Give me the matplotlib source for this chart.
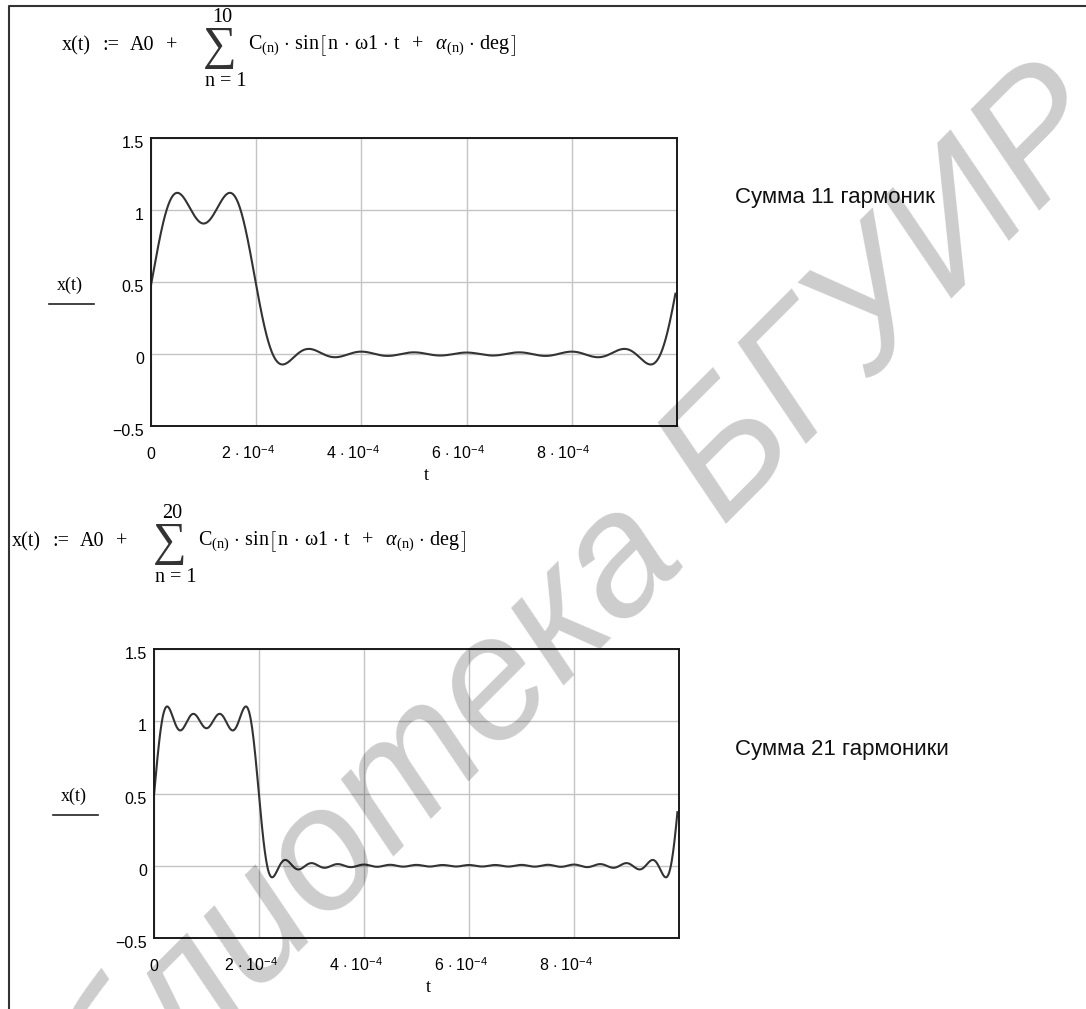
import numpy as np
import matplotlib.pyplot as plt
import matplotlib.transforms as mtransforms

plt.rcParams['mathtext.fontset'] = 'custom'
plt.rcParams['mathtext.rm'] = 'Liberation Serif'
plt.rcParams['mathtext.it'] = 'Liberation Serif:italic'
plt.rcParams['mathtext.sf'] = 'Liberation Sans'

# Pulse train expansion: constant term, amplitudes and phases (deg) of harmonics 1..20
A0 = 0.2
f1 = 1000.0
C = [0.3742, 0.3027, 0.2018, 0.0935, 0.0, 0.0624, 0.0865, 0.0757, 0.0416, 0.0,
     0.0340, 0.0505, 0.0466, 0.0267, 0.0, 0.0234, 0.0356, 0.0336, 0.0197, 0.0]
alpha = [54, 18, -18, -54, 0, 54, 18, -18, -54, 0,
         54, 18, -18, -54, 0, 54, 18, -18, -54, 0]
t_end = 0.997e-3

harm_counts = [10, 20]
captions = ['Сумма 11 гармоник', 'Сумма 21 гармоники']

t_ticks = [0, 2e-4, 4e-4, 6e-4, 8e-4]
t_labels = ['0', r'$\mathsf{2\,\cdot\,10}^{\mathsf{-4}}$', r'$\mathsf{4\,\cdot\,10}^{\mathsf{-4}}$',
            r'$\mathsf{6\,\cdot\,10}^{\mathsf{-4}}$', r'$\mathsf{8\,\cdot\,10}^{\mathsf{-4}}$']
y_ticks = [-0.5, 0, 0.5, 1, 1.5]
y_labels = ['\u22120.5', '0', '0.5', '1', '1.5']


def x_sum(t, N):
    w1 = 2 * np.pi * f1
    deg = np.pi / 180
    x = np.full_like(t, A0)
    for n in range(1, N + 1):
        x += C[n - 1] * np.sin(n * w1 * t + alpha[n - 1] * deg)
    return x


W, H = 1086, 1009
fig = plt.figure(figsize=(W / 100, H / 100), dpi=100)


def rect(l, t, r, b):
    return [l / W, 1 - b / H, (r - l) / W, (b - t) / H]


boxes = [(151, 138, 677, 426), (154, 649, 679, 938)]
t = np.linspace(0, t_end, 1200)

for box, N in zip(boxes, harm_counts):
    ax = fig.add_axes(rect(*box))
    ax.plot(t, x_sum(t, N), color='#333333', lw=1.5)
    ax.set_xlim(0, 1e-3)
    ax.set_ylim(-0.5, 1.5)
    ax.set_xticks(t_ticks)
    ax.set_xticklabels(t_labels)
    ax.set_yticks(y_ticks)
    ax.set_yticklabels(y_labels)
    ax.grid(color='#c4c4c4', lw=1.0)
    ax.set_axisbelow(True)
    ax.tick_params(length=0, labelsize=11.5)
    ax.tick_params(axis='y', pad=5)
    ax.tick_params(axis='x', pad=24)
    for lbl in ax.get_xticklabels() + ax.get_yticklabels():
        lbl.set_fontfamily('Liberation Sans')
    dy = mtransforms.ScaledTranslation(0, -3 / 72, fig.dpi_scale_trans)
    for lbl in ax.get_yticklabels():
        lbl.set_transform(lbl.get_transform() + dy)
    dx = mtransforms.ScaledTranslation(-6 / 72, 0, fig.dpi_scale_trans)
    for i, lbl in enumerate(ax.get_xticklabels()):
        lbl.set_verticalalignment('baseline')
        if i > 0:
            lbl.set_transform(lbl.get_transform() + dx)
    for s in ax.spines.values():
        s.set_color('#1a1a1a')
        s.set_linewidth(1.4)

# text layer in pixel coordinates
ov = fig.add_axes([0, 0, 1, 1])
ov.set_xlim(0, W)
ov.set_ylim(H, 0)
ov.axis('off')

# page frame
ov.plot([9, 9, W], [H, 6, 6], color='#333333', lw=1.5)

serif = 'Liberation Serif'
rest = (r'$\mathrm{C}_{(\mathrm{n})}\,\cdot\,\mathrm{sin}\left[\,\mathrm{n}\,\cdot\,\mathrm{\omega 1}'
        r'\,\cdot\,\mathrm{t}\ \ +\ \ \alpha_{(\mathrm{n})}\,\cdot\,\mathrm{deg}\,\right]$')

# formulas: (start x, middle y, upper limit)
for x0, yc, top in [(62, 46, '10'), (12, 542, '20')]:
    fs = 14.5
    ov.text(x0, yc, 'x(t)', family=serif, fontsize=fs, va='center', ha='left')
    ov.text(x0 + 40, yc, ':=', family=serif, fontsize=fs, va='center', ha='left')
    ov.text(x0 + 68, yc, 'A0', family=serif, fontsize=fs, va='center', ha='left')
    ov.text(x0 + 104, yc, '+', family=serif, fontsize=fs, va='center', ha='left')
    ov.text(x0 + 158, yc + 2, '\u2211', family='Liberation Serif', fontsize=34, va='center',
            ha='center', color='#333333')
    ov.text(x0 + 160, yc - 28, top, family=serif, fontsize=fs, va='center', ha='center')
    ov.text(x0 + 164, yc + 35, 'n = 1', family=serif, fontsize=fs, va='center', ha='center')
    ov.text(x0 + 186, yc, rest, fontsize=fs, va='center', ha='left')

# trace names and axis variable
for box, lx, ly in [(boxes[0], 70, 285), (boxes[1], 74, 796)]:
    ov.text(lx, ly, 'x(t)', family=serif, fontsize=13, ha='center', va='center')
    ov.plot([lx - 21, lx + 24], [ly + 19, ly + 19], color='#222222', lw=1.2)
    ov.text((box[0] + box[2]) / 2 + 12, box[3] + 50, 't', family=serif, fontsize=13,
            ha='center', va='center')

for cap, y in zip(captions, [198, 749]):
    ov.text(735, y, cap, family='Liberation Sans', fontsize=16, ha='left', va='center',
            color='#111111')

# library watermark
ov.text(545, 705, 'Библиотека БГУИР', family='Liberation Sans', style='italic',
        fontsize=125, color='black', alpha=0.2, rotation=45, rotation_mode='anchor',
        ha='center', va='baseline')

fig.savefig('out.png', dpi=100)
